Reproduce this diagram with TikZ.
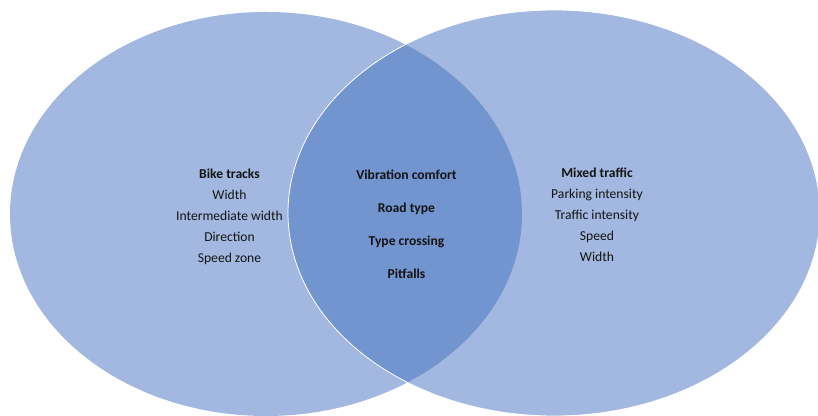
\documentclass[tikz,border=0pt]{standalone}
\usepackage{fontspec}
\setmainfont{Carlito}
\usepackage{xcolor}
\usepackage{tikz}
\usetikzlibrary{positioning}
\definecolor{softblue}{RGB}{162,184,224}
\definecolor{midblue}{RGB}{114,148,207}
\definecolor{textgray}{RGB}{20,20,20}

\begin{document}
\begin{tikzpicture}[x=0.75pt, y=0.75pt]
  \tikzstyle{group} = [align=center, inner sep=0pt, text=textgray, font=\fontsize{10.2}{15.75}\selectfont]
  \tikzstyle{common} = [align=center, inner sep=0pt, text=textgray, font=\fontsize{10.2}{24.75}\selectfont\bfseries]

  \useasboundingbox (0,0) rectangle (818,416);

  % the two sets
  \fill[softblue] (266,202) ellipse [x radius=256, y radius=202];
  \fill[softblue] (554,203) ellipse [x radius=266, y radius=203];
  \begin{scope}
    \clip (554,203) ellipse [x radius=266, y radius=203];
    \fill[midblue] (266,202) ellipse [x radius=256, y radius=202];
  \end{scope}
  \draw[white, line width=0.6pt] (554,203) ellipse [x radius=266, y radius=203];

  % texts
  \node [group] (bike) at (229.5,199.5) {\textbf{Bike tracks}\\Width\\Intermediate width\\Direction\\Speed zone};
  \node [common] (shared) at (406.5,192) {Vibration comfort\\Road type\\Type crossing\\Pitfalls};
  \node [group] (mixed) at (597,201.5) {\textbf{Mixed traffic}\\Parking intensity\\Traffic intensity\\Speed\\Width};
\end{tikzpicture}
\end{document}
